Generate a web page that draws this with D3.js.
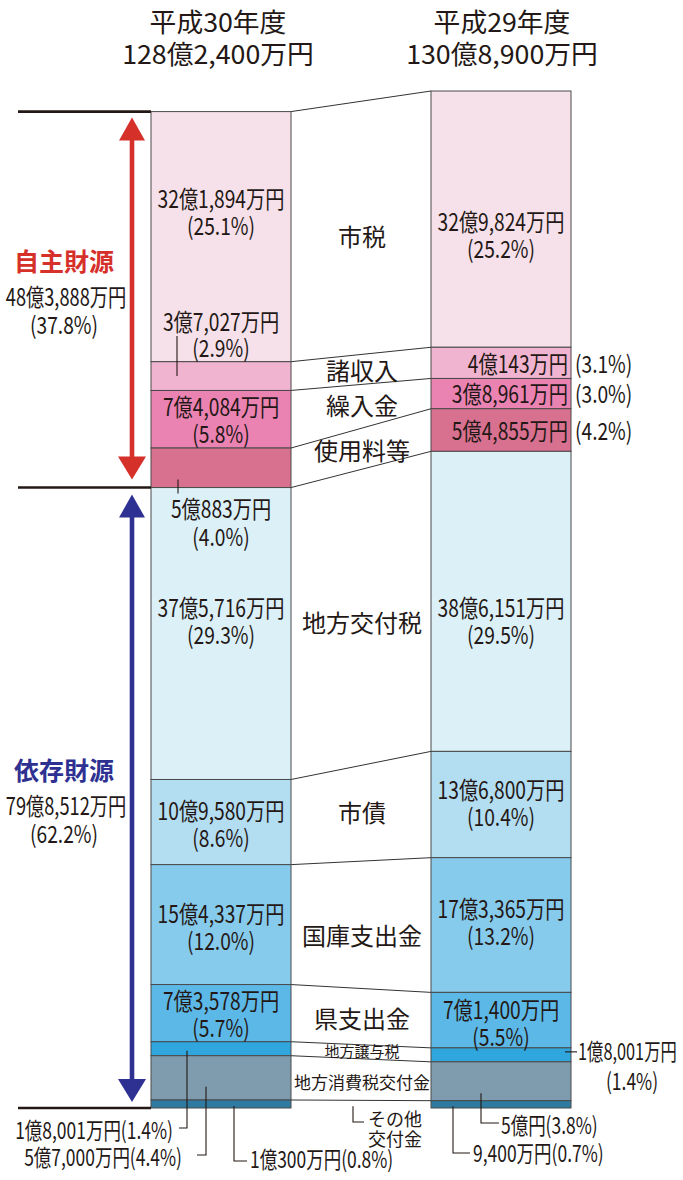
<!DOCTYPE html>
<html>
<head>
<meta charset="utf-8">
<script src="https://cdn.jsdelivr.net/npm/d3@7"></script>
<style>
  body { margin: 0; background: #fff; }
  text { font-family: "Noto Sans CJK JP", "Noto Sans", sans-serif; fill: #231815; }
</style>
</head>
<body>
<div id="chart"></div>
<script>
const width = 683, height = 1180;

// Data
const years = ["平成30年度", "平成29年度"];
const totals = ["128億2,400万円", "130億8,900万円"];
const categories = ["市税", "諸収入", "繰入金", "使用料等", "地方交付税", "市債", "国庫支出金",
  "県支出金", "地方譲与税", "地方消費税交付金", "その他交付金"];
const valuesH30 = [32.1894, 3.7027, 7.4084, 5.0883, 37.5716, 10.958, 15.4337, 7.3578, 1.8001, 5.70, 1.03];
const valuesH29 = [32.9824, 4.0143, 3.8961, 5.4855, 38.6151, 13.68, 17.3365, 7.14, 1.8001, 5.00, 0.94];
const amountH30 = ["32億1,894万円", "3億7,027万円", "7億4,084万円", "5億883万円", "37億5,716万円",
  "10億9,580万円", "15億4,337万円", "7億3,578万円", "1億8,001万円", "5億7,000万円", "1億300万円"];
const pctH30 = ["25.1", "2.9", "5.8", "4.0", "29.3", "8.6", "12.0", "5.7", "1.4", "4.4", "0.8"];
const amountH29 = ["32億9,824万円", "4億143万円", "3億8,961万円", "5億4,855万円", "38億6,151万円",
  "13億6,800万円", "17億3,365万円", "7億1,400万円", "1億8,001万円", "5億円", "9,400万円"];
const pctH29 = ["25.2", "3.1", "3.0", "4.2", "29.5", "10.4", "13.2", "5.5", "1.4", "3.8", "0.7"];
const groups = ["自主財源", "依存財源"];
const groupAmount = ["48億3,888万円", "79億8,512万円"];
const groupPct = ["37.8", "62.2"];
const ownCount = 4; // first 4 categories = 自主財源

const colors = ["#f6e1ea", "#f1b4d0", "#ea82b2", "#d8708f", "#dcf0f8", "#b3ddf1",
  "#87cbec", "#5cb8e7", "#2fa6dd", "#7e9cae", "#2e7aa0"];
const ink = "#231815";

const svg = d3.select("#chart").append("svg")
  .attr("width", width).attr("height", height);

// Scales
const x = d3.scaleBand().domain(years).range([151, 571]).paddingInner(0.5).paddingOuter(0);
const bw = x.bandwidth();
const maxTotal = d3.max([d3.sum(valuesH30), d3.sum(valuesH29)]);
const y = d3.scaleLinear().domain([0, maxTotal]).range([1108, 91]);

function stackOf(vals) {
  const total = d3.sum(vals);
  let acc = 0;
  return vals.map((v, i) => {
    const top = total - acc;
    acc += v;
    return {i, v, y0: y(top), y1: y(top - v), mid: (y(top) + y(top - v)) / 2};
  });
}
const s30 = stackOf(valuesH30);
const s29 = stackOf(valuesH29);
const xL = x(years[0]), xR = x(years[1]);
const cL = xL + bw / 2, cR = xR + bw / 2;

// text helper (condensed look via horizontal scale)
function txt(x0, y0, s, o = {}) {
  const size = o.size || 24, sx = o.sx == null ? 0.8 : o.sx;
  svg.append("text")
    .attr("transform", `translate(${x0},${y0}) scale(${sx},1)`)
    .attr("text-anchor", o.anchor || "middle")
    .attr("dy", "0.36em")
    .style("font-size", size + "px")
    .style("font-weight", o.weight || 400)
    .style("fill", o.fill || ink)
    .text(s);
}
function leader(points) {
  svg.append("path")
    .attr("d", d3.line()(points))
    .attr("fill", "none").attr("stroke", ink).attr("stroke-width", 1.1);
}

// Titles
[0, 1].forEach(k => {
  const cx = k === 0 ? cL - 3 : cR + 1;
  txt(cx, 23, years[k], {size: 26, sx: 1.03});
  txt(cx, 55, totals[k], {size: 26, sx: 1.03});
});

// Connector lines
s30.forEach((d, i) => {
  svg.append("line")
    .attr("x1", xL + bw).attr("y1", d.y0)
    .attr("x2", xR).attr("y2", s29[i].y0)
    .attr("stroke", "#333").attr("stroke-width", 1);
});

// Bars
[[s30, xL], [s29, xR]].forEach(([st, bx]) => {
  svg.append("g").selectAll("rect")
    .data(st).enter().append("rect")
    .attr("x", bx).attr("width", bw)
    .attr("y", d => d.y0).attr("height", d => d.y1 - d.y0)
    .attr("fill", d => colors[d.i])
    .attr("stroke", "#4a4a4a").attr("stroke-width", 1);
});

// Group rules and arrows
const ruleYs = [s30[0].y0, s30[ownCount].y0, s30[s30.length - 1].y1];
ruleYs.forEach(ry => {
  svg.append("line").attr("x1", 18).attr("x2", xL).attr("y1", ry).attr("y2", ry)
    .attr("stroke", "#231815").attr("stroke-width", 2.6);
});
const ax = 132;
function arrow(yTop, yBot, col) {
  svg.append("line").attr("x1", ax).attr("x2", ax).attr("y1", yTop + 15).attr("y2", yBot - 15)
    .attr("stroke", col).attr("stroke-width", 4.6);
  svg.append("path").attr("d", `M${ax},${yTop} L${ax - 13},${yTop + 23} L${ax + 13},${yTop + 23}Z`).attr("fill", col);
  svg.append("path").attr("d", `M${ax},${yBot} L${ax - 14},${yBot - 23} L${ax + 14},${yBot - 23}Z`).attr("fill", col);
}
arrow(ruleYs[0] + 6, ruleYs[1] - 8, "#d6302b");
arrow(ruleYs[1] + 7, ruleYs[2] - 6, "#2e3192");

// Group labels
const gMid = [(ruleYs[0] + ruleYs[1]) / 2, (ruleYs[1] + ruleYs[2]) / 2];
const gOff = [-38, -27];
const gCol = ["#d6302b", "#2e3192"];
[0, 1].forEach(k => {
  const gy = gMid[k] + gOff[k];
  txt(64, gy, groups[k], {size: 25, weight: 700, fill: gCol[k], sx: 1});
  txt(66, gy + 36, groupAmount[k], {size: 24, sx: 0.76});
  txt(64, gy + 64, "(" + groupPct[k] + "%)", {size: 24, sx: 0.8});
});

// Left bar (H30) labels
const inL = {0: -23, 2: 2, 4: -11, 5: 3, 6: 4, 7: 2};
Object.entries(inL).forEach(([i, dy]) => {
  const d = s30[+i];
  txt(cL, d.mid + dy - 14, amountH30[i]);
  txt(cL, d.mid + dy + 13, "(" + pctH30[i] + "%)");
});
// 諸収入 (label above with leader)
{
  const d = s30[1];
  txt(cL, d.mid - 54, amountH30[1]);
  txt(cL, d.mid - 28, "(" + pctH30[1] + "%)");
  leader([[xL + 26, d.mid - 40], [xL + 26, d.mid]]);
}
// 使用料等 (label below with leader)
{
  const d = s30[3];
  leader([[xL + 27, d.y1 - 8], [xL + 27, d.y1 + 6]]);
  txt(cL, d.y1 + 22, amountH30[3]);
  txt(cL, d.y1 + 50, "(" + pctH30[3] + "%)");
}
// bottom small segments (H30)
{
  const d8 = s30[8], d9 = s30[9], d10 = s30[10];
  leader([[xL + 36, d8.mid + 2], [xL + 36, 1128], [xL + 28, 1128]]);
  txt(xL + 22, 1131, amountH30[8] + "(" + pctH30[8] + "%)", {size: 23, anchor: "end", sx: 0.76});
  leader([[xL + 55, d9.mid + 9], [xL + 55, 1155], [xL + 46, 1155]]);
  txt(xL + 31, 1158, amountH30[9] + "(" + pctH30[9] + "%)", {size: 23, anchor: "end", sx: 0.76});
  leader([[xL + 83, d10.mid + 2], [xL + 83, 1161], [xL + 96, 1161]]);
  txt(xL + 99, 1160, amountH30[10] + "(" + pctH30[10] + "%)", {size: 23, anchor: "start", sx: 0.76});
}

// Right bar (H29) labels
const inR = {0: 17, 4: 21, 5: 0, 6: -2, 7: 4};
Object.entries(inR).forEach(([i, dy]) => {
  const d = s29[+i];
  txt(cR, d.mid + dy - 14, amountH29[i]);
  txt(cR, d.mid + dy + 13, "(" + pctH29[i] + "%)");
});
[1, 2, 3].forEach(i => {
  const d = s29[i];
  txt(xR + bw - 3, d.mid + 1, amountH29[i], {anchor: "end"});
  txt(xR + bw + 4, d.mid + 1, "(" + pctH29[i] + "%)", {anchor: "start"});
});
{
  const d8 = s29[8], d9 = s29[9], d10 = s29[10];
  leader([[xR + bw - 6, d8.mid - 3], [xR + bw + 6, d8.mid - 3]]);
  txt(xR + bw + 7, d8.mid - 3, amountH29[8], {size: 23, anchor: "start", sx: 0.71});
  txt(632, d8.mid + 27, "(" + pctH29[8] + "%)", {size: 23, sx: 0.76});
  leader([[xR + 50, d9.mid + 12], [xR + 50, 1123], [xR + 68, 1123]]);
  txt(xR + 70, 1126, amountH29[9] + "(" + pctH29[9] + "%)", {size: 23, anchor: "start", sx: 0.76});
  leader([[xR + 22, d10.mid + 2], [xR + 22, 1153], [xR + 39, 1153]]);
  txt(xR + 42, 1154, amountH29[10] + "(" + pctH29[10] + "%)", {size: 23, anchor: "start", sx: 0.76});
}

// Middle category labels
const cM = (xL + bw + xR) / 2 + 1;
const midOff = [9, 2, 0, 2, 6, 0, 12, 3, 0, 3];
const midSize = [24, 24, 24, 24, 24, 24, 24, 24, 15, 17];
midOff.forEach((dy, i) => {
  const my = (s30[i].mid + s29[i].mid) / 2 + dy;
  txt(cM, my, categories[i], {size: midSize[i], sx: 1});
});
// その他交付金 (below, with leader)
{
  const my = (s30[10].mid + s29[10].mid) / 2;
  leader([[cM - 9, my + 2], [cM - 9, 1122], [cM + 2, 1122]]);
  txt(cM + 6, 1120, "その他", {size: 18, anchor: "start", sx: 1});
  txt(cM + 6, 1140, "交付金", {size: 18, anchor: "start", sx: 1});
}
</script>
</body>
</html>
